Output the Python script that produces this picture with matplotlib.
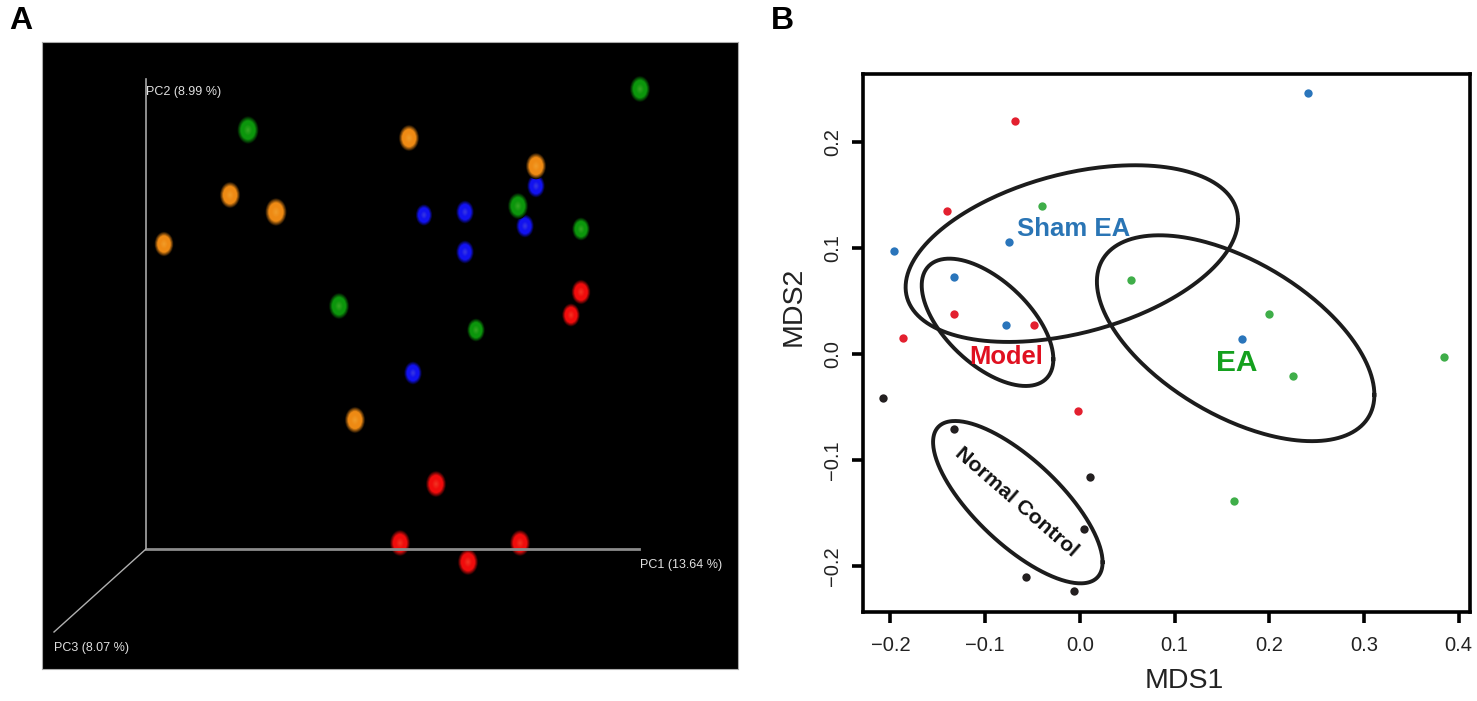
#!/usr/bin/env python
# -*- coding: utf-8 -*-

import numpy as np
import matplotlib
matplotlib.use("Agg")
import matplotlib.pyplot as plt
from matplotlib.patches import Ellipse
from matplotlib.colors import to_rgb

plt.rcParams["font.family"] = ["Liberation Sans", "DejaVu Sans"]

W, H = 1477, 701

# panel A, projected positions of the samples (screen units of the 3D view)
orange_x = [409, 230, 276, 164, 355, 536]
orange_y = [138, 195, 212, 244, 420, 166]
orange_w = [17, 17, 18, 16, 17, 17]
green_x = [640, 248, 518, 581, 339, 476]
green_y = [89, 130, 206, 229, 306, 330]
green_w = [17, 18, 17, 15, 17, 15]
blue_x = [536, 424, 465, 525, 465, 413]
blue_y = [186, 215, 212, 226, 252, 373]
blue_w = [15, 14, 15, 15, 15, 15]
red_x = [581, 571, 436, 400, 520, 468]
red_y = [292, 315, 484, 543, 543, 562]
red_w = [16, 15, 17, 17, 17, 17]

# panel B, MDS scores
sham_mds1 = [0.241, -0.196, -0.075, -0.133, -0.078, 0.171]
sham_mds2 = [0.246, 0.097, 0.106, 0.073, 0.027, 0.014]
model_mds1 = [-0.068, -0.140, -0.133, -0.048, -0.187, -0.002]
model_mds2 = [0.220, 0.135, 0.038, 0.027, 0.015, -0.054]
ea_mds1 = [-0.040, 0.054, 0.200, 0.225, 0.385, 0.163]
ea_mds2 = [0.140, 0.070, 0.038, -0.021, -0.003, -0.138]
ctrl_mds1 = [-0.208, -0.133, 0.011, 0.004, -0.057, -0.006]
ctrl_mds2 = [-0.041, -0.071, -0.116, -0.165, -0.210, -0.223]

x_ticks = [-0.2, -0.1, 0.0, 0.1, 0.2, 0.3, 0.4]
y_ticks = [-0.2, -0.1, 0.0, 0.1, 0.2]

# group ellipses: x min, x max, y min, y max, correlation
sham_ell = (-0.184, 0.167, 0.0115, 0.178, 0.38)
model_ell = (-0.167, -0.028, -0.030, 0.090, -0.58)
ea_ell = (0.018, 0.311, -0.082, 0.112, -0.55)
ctrl_ell = (-0.155, 0.024, -0.216, -0.063, -0.74)


def axes_px(left, top, right, bottom):
    return fig.add_axes([left / W, 1 - bottom / H, (right - left) / W, (bottom - top) / H])


def sphere(ax, x, y, w, color):
    # layered ellipses give the shaded ball look, soft rim and a light centre
    base = np.array(to_rgb(color))
    h = w * 1.3
    for f in np.linspace(1.2, 0.05, 24):
        c = base * np.clip((1.22 - f) / 0.42, 0.05, 1)
        if f < 0.5:
            c = c + (np.array([1, 1, 0.6]) - base) * (0.5 - f) * 0.35
        ax.add_patch(Ellipse((x, y), w * f, h * f, facecolor=np.clip(c, 0, 1), edgecolor="none"))


def group_ellipse(ax, ell):
    x0, x1, y0, y1, rho = ell
    t = np.linspace(0, 2 * np.pi, 300)
    xs = (x0 + x1) / 2 + (x1 - x0) / 2 * np.cos(t)
    ys = (y0 + y1) / 2 + (y1 - y0) / 2 * (rho * np.cos(t) + np.sqrt(1 - rho ** 2) * np.sin(t))
    ax.plot(xs, ys, "-", color="#1c1c1c", linewidth=2.8)


fig = plt.figure(figsize=(W / 100, H / 100), dpi=100, facecolor="w")

#
# panel A
#
ax = axes_px(42, 42, 738, 669)
ax.set_facecolor("k")
ax.set_xlim(42, 738)
ax.set_ylim(669, 42)
ax.set_xticks([])
ax.set_yticks([])
for s in ax.spines.values():
    s.set_color("#aaaaaa")
    s.set_linewidth(0.8)

ax.plot([146, 146], [79, 549], "-", color="#a8a8a8", linewidth=1.2)
ax.plot([146, 639], [549, 549], "-", color="#8c8c8c", linewidth=2)
ax.plot([146, 54], [549, 632], "-", color="#b0b0b0", linewidth=1)

for xs, ys, ws, col in [(blue_x, blue_y, blue_w, "#1212f0"),
                        (green_x, green_y, green_w, "#0c960c"),
                        (orange_x, orange_y, orange_w, "#ee8a14"),
                        (red_x, red_y, red_w, "#f00c0c")]:
    for x, y, w in zip(xs, ys, ws):
        sphere(ax, x, y, w, col)

axis_font = dict(color="#e0e0e0", fontsize=9, ha="left", va="center")
ax.text(146, 92, "PC2 (8.99 %)", **axis_font)
ax.text(640, 565, "PC1 (13.64 %)", **axis_font)
ax.text(54, 648, "PC3 (8.07 %)", **axis_font)

#
# panel B
#
ax = axes_px(863, 74, 1470, 612)
ax.set_xlim(-0.229, 0.412)
ax.set_ylim(-0.243, 0.264)

for xs, ys, col in [(sham_mds1, sham_mds2, "#2a75bb"),
                    (model_mds1, model_mds2, "#e3202f"),
                    (ea_mds1, ea_mds2, "#3fae49"),
                    (ctrl_mds1, ctrl_mds2, "#231f20")]:
    ax.scatter(xs, ys, s=36, c=col, linewidths=0, zorder=2)

for ell in [sham_ell, model_ell, ea_ell, ctrl_ell]:
    group_ellipse(ax, ell)

ax.text(-0.007, 0.118, "Sham EA", color="#2a75b5", fontsize=18.5, fontweight="bold", ha="center", va="center")
ax.text(-0.078, -0.003, "Model", color="#e01020", fontsize=18.4, fontweight="bold", ha="center", va="center")
ax.text(0.166, -0.008, "EA", color="#14a01e", fontsize=21.5, fontweight="bold", ha="center", va="center")
ax.text(-0.067, -0.139, "Normal Control", color="#111111", fontsize=15.4, fontweight="bold",
        ha="center", va="center", rotation=-41, rotation_mode="anchor")

ax.set_xticks(x_ticks)
ax.set_yticks(y_ticks)
ax.set_xticklabels(["\u22120.2", "\u22120.1", "0.0", "0.1", "0.2", "0.3", "0.4"], fontsize=14.5)
ax.set_yticklabels(["\u22120.2", "\u22120.1", "0.0", "0.1", "0.2"], fontsize=14.5, rotation=90, va="center")
ax.tick_params(width=2.6, length=8, color="k", labelcolor="#222222")
ax.tick_params(axis="x", pad=9)
ax.tick_params(axis="y", pad=7)
ax.set_xlabel("MDS1", fontsize=20.5, color="#222222", va="center")
ax.set_ylabel("MDS2", fontsize=20.5, color="#222222", va="center")
ax.xaxis.set_label_coords(0.529, -0.129)
ax.yaxis.set_label_coords(-0.115, 0.569)
for s in ax.spines.values():
    s.set_linewidth(2.6)

fig.text(9 / W, 1 - 21 / H, "A", fontsize=23, fontweight="bold", ha="left", va="center")
fig.text(771 / W, 1 - 21 / H, "B", fontsize=23, fontweight="bold", ha="left", va="center")

plt.savefig("out.png", dpi=100, facecolor="w")
